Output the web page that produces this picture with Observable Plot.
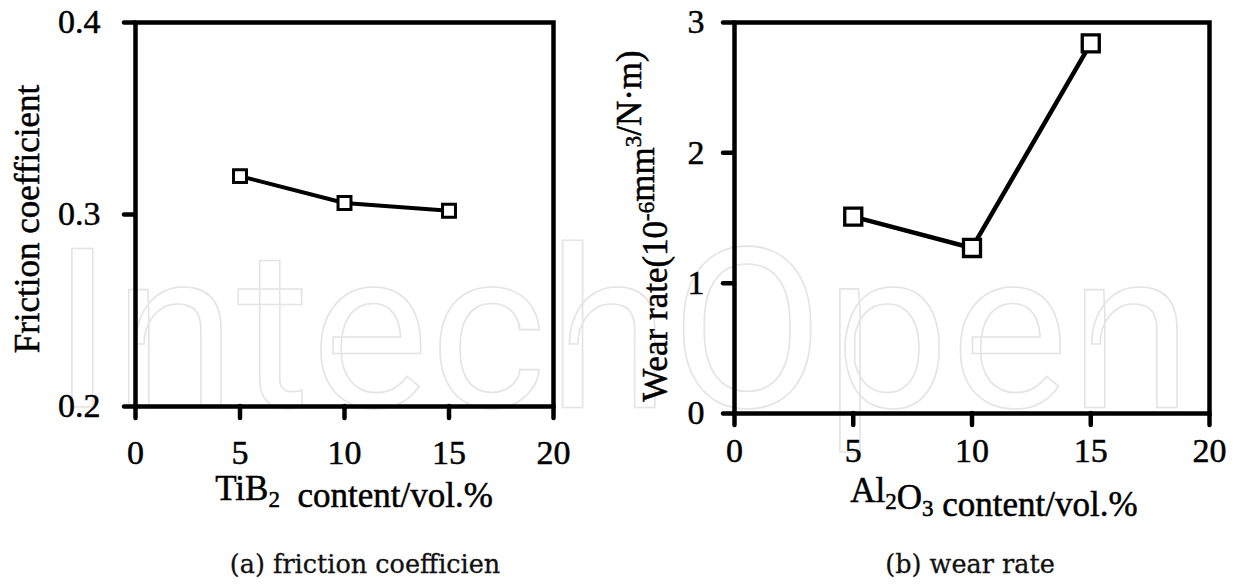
<!DOCTYPE html>
<html>
<head>
<meta charset="utf-8">
<script src="https://cdn.jsdelivr.net/npm/d3@7"></script>
<script src="https://cdn.jsdelivr.net/npm/@observablehq/plot@0.6"></script>
<style>
  html, body { margin: 0; padding: 0; background: white; }
  #wrap { position: relative; width: 1240px; height: 586px; overflow: hidden; background: white; }
  #wm { position: absolute; left: 0; top: 0; }
  .panel { position: absolute; top: 0; }
  .panel svg, .panel svg g, .panel svg text { font-family: 'Liberation Serif', 'Times New Roman', serif !important; }
  .panel svg g[aria-label$="tick label"], .panel svg g[aria-label$="tick label"] text { font-size: 34px !important; }
  .panel svg text { stroke: black; stroke-width: 0.5px; }
  .cap { position: absolute; width: 400px; text-align: center; font-family: "DejaVu Serif", serif; font-size: 25.5px; line-height: 1; color: #111; -webkit-text-stroke: 0.3px #111; }
</style>
</head>
<body>
<div id="wrap">
  <svg id="wm" width="1240" height="586">
    <text x="52" y="407" font-family="Roboto, sans-serif" font-weight="400" font-size="222" fill="white" stroke="#e4e4e4" stroke-width="1.6" textLength="1140" lengthAdjust="spacing">IntechOpen</text>
  </svg>
  <div id="left" class="panel" style="left:0px"></div>
  <div id="right" class="panel" style="left:620px"></div>
  <div class="cap" style="left:165px; top:552px">(a) friction coefficien</div>
  <div class="cap" style="left:770px; top:552px">(b) wear rate</div>
</div>
<script>
// ---- data ----
const xTicks = [0, 5, 10, 15, 20];
const tib2Content = [5, 10, 15];
const frictionCoef = [0.320, 0.306, 0.302];
const frictionTicks = [0.2, 0.3, 0.4];
const al2o3Content = [5, 10, 15];
const wearRate = [1.51, 1.27, 2.84];
const wearTicks = [0, 1, 2, 3];

const leftData = tib2Content.map((x, i) => ({x, y: frictionCoef[i]}));
const rightData = al2o3Content.map((x, i) => ({x, y: wearRate[i]}));

const font = "'Liberation Serif', 'Times New Roman', serif";
const style = {fontFamily: font, background: "none", overflow: "visible", color: "black"};

const left = Plot.plot({
  width: 620, height: 520,
  marginTop: 22, marginLeft: 135, marginRight: 67, marginBottom: 114,
  x: {domain: [0, 20]},
  y: {domain: [0.2, 0.4]},
  style,
  marks: [
    Plot.axisX({ticks: xTicks, tickSize: 12, tickPadding: 21, fontSize: 34, strokeWidth: 4.5, strokeLinecap: "round", label: null, tickFormat: d => String(d)}),
    Plot.axisY({ticks: frictionTicks, tickSize: 11, tickPadding: 24, fontSize: 34, strokeWidth: 4.5, strokeLinecap: "round", label: null, tickFormat: d3.format(".1f")}),
    Plot.frame({strokeWidth: 4.5, stroke: "black"}),
    Plot.line(leftData, {x: "x", y: "y", stroke: "black", strokeWidth: 4}),
    Plot.dot(leftData, {x: "x", y: "y", symbol: "square", r: 7.3, fill: "white", stroke: "black", strokeWidth: 3})
  ]
});

const right = Plot.plot({
  width: 620, height: 520,
  marginTop: 22, marginLeft: 114, marginRight: 31, marginBottom: 107,
  x: {domain: [0, 20]},
  y: {domain: [0, 3]},
  style,
  marks: [
    Plot.axisX({ticks: xTicks, tickSize: 12, tickPadding: 12, fontSize: 34, strokeWidth: 4.5, strokeLinecap: "round", label: null, tickFormat: d => String(d)}),
    Plot.axisY({ticks: wearTicks, tickSize: 11, tickPadding: 19, fontSize: 34, strokeWidth: 4.5, strokeLinecap: "round", label: null, tickFormat: d3.format("d")}),
    Plot.frame({strokeWidth: 4.5, stroke: "black"}),
    Plot.line(rightData, {x: "x", y: "y", stroke: "black", strokeWidth: 4.5}),
    Plot.dot(rightData, {x: "x", y: "y", symbol: "square", r: 9.6, fill: "white", stroke: "black", strokeWidth: 3.3})
  ]
});

document.getElementById("left").appendChild(left);
document.getElementById("right").appendChild(right);

// axis titles with sub/superscripts
function addText(svg, x, y, rotate, parts) {
  const t = d3.select(svg).append("text")
    .attr("transform", `translate(${x},${y})` + (rotate ? " rotate(-90)" : ""))
    .attr("text-anchor", "middle")
    .attr("font-family", font)
    .attr("font-size", 35)
    .attr("fill", "black")
    .style("white-space", "pre");
  for (const p of parts) {
    if (typeof p === "string") {
      t.append("tspan").text(p);
    } else if (p.sub) {
      t.append("tspan").attr("font-size", 23).attr("dy", 7).text(p.sub);
      t.append("tspan").attr("dy", -7).text("");
    } else if (p.sup) {
      t.append("tspan").attr("font-size", 23).attr("dy", -13).text(p.sup);
      t.append("tspan").attr("dy", 13).text("");
    }
  }
}
addText(left, 354, 500, false, ["TiB", {sub: "2"}, "  content/vol.%"]);
addText(left, 39, 219, true, ["Friction coefficient"]);
addText(right, 374, 502, false, ["Al", {sub: "2"}, "O", {sub: "3"}, " content/vol.%"]);
addText(right, 47, 226, true, ["Wear rate(10", {sup: "-6"}, "mm", {sup: "3"}, "/N·m)"]);
</script>
</body>
</html>
